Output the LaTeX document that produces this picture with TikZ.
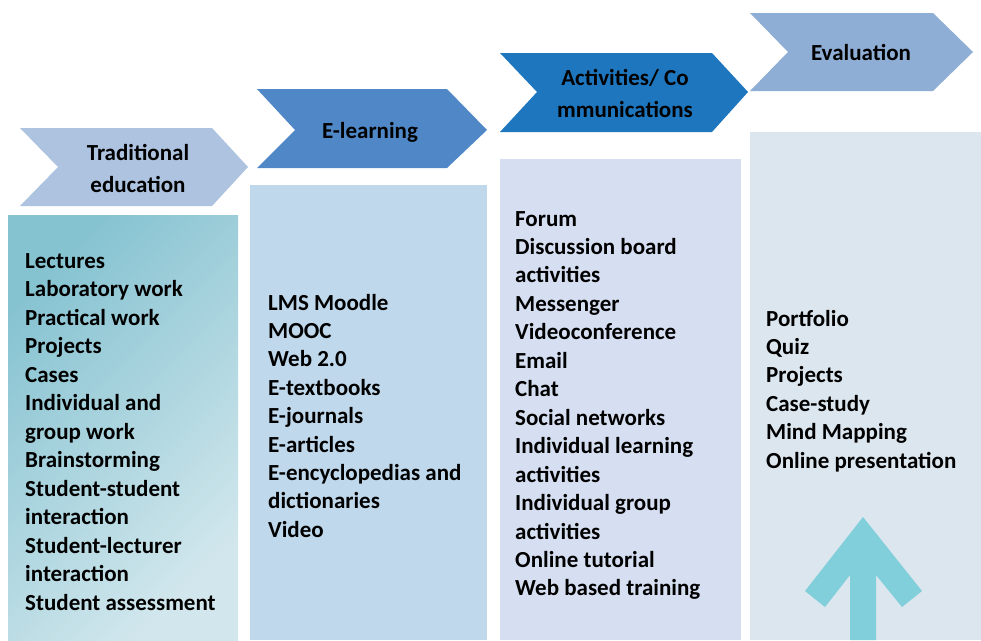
\documentclass[tikz,border=0pt]{standalone}
\usepackage{fontspec}
\setmainfont{Carlito}
\usetikzlibrary{positioning}

\definecolor{chevA}{HTML}{AEC3DF}
\definecolor{chevB}{HTML}{4F87C7}
\definecolor{chevC}{HTML}{1E77BE}
\definecolor{chevD}{HTML}{8FAED5}
\definecolor{boxAdark}{HTML}{86C3D1}
\definecolor{boxAlight}{HTML}{D2E7ED}
\definecolor{boxB}{HTML}{BFD8EB}
\definecolor{boxC}{HTML}{D6DFF1}
\definecolor{boxD}{HTML}{DCE6EE}
\definecolor{uparrow}{HTML}{80CFDA}

\tikzset{
  head/.style = {anchor = base, inner sep = 0pt, font = \fontsize{23}{28}\selectfont\bfseries},
  item/.style = {anchor = base west, inner sep = 0pt, font = \fontsize{23}{28}\selectfont\bfseries},
}

\begin{document}
\begin{tikzpicture} [x = 1pt, y = -1pt]
\useasboundingbox (0,0) rectangle (981,640);
\fill [white] (0,0) rectangle (981,640);

% columns
\shade [top color = boxAdark, bottom color = boxAlight, shading angle = 45] (8,215) rectangle (238,640);
\fill [boxB] (250,185) rectangle (487,640);
\fill [boxC] (500,159) rectangle (741,640);
\fill [boxD] (750,132) rectangle (981,640);

% chevrons
\fill [chevA] (20,128) -- (212,128) -- (248,167) -- (212,206) -- (20,206) -- (58,167) -- cycle;
\fill [chevB] (257,89) -- (447,89) -- (487,130) -- (447,168) -- (257,168) -- (295,130) -- cycle;
\fill [chevC] (500,53) -- (712,53) -- (748,92) -- (712,132) -- (500,132) -- (537,92) -- cycle;
\fill [chevD] (750,13) -- (933,13) -- (973,52) -- (933,91) -- (750,91) -- (788,52) -- cycle;

\node [head] (trad1) at (138,160) {Traditional};
\node [head] (trad2) at (138,192) {education};
\node [head] (elearn) at (370,138) {E-learning};
\node [head] (act1) at (625,85) {Activities/ Co};
\node [head] (act2) at (625,117) {mmunications};
\node [head] (eval) at (861,60) {Evaluation};

% lists
\foreach \t [count = \i] in {Lectures, Laboratory work, Practical work, Projects, Cases,
    Individual and, group work, Brainstorming, Student-student, interaction,
    Student-lecturer, interaction, Student assessment}
  \node [item] (a\i) at (25, {268 + 28.5*(\i-1)}) {\t};

\foreach \t [count = \i] in {LMS Moodle, MOOC, Web 2.0, E-textbooks, E-journals,
    E-articles, E-encyclopedias and, dictionaries, Video}
  \node [item] (b\i) at (268, {310 + 28.4*(\i-1)}) {\t};

\foreach \t [count = \i] in {Forum, Discussion board, activities, Messenger, Videoconference,
    Email, Chat, Social networks, Individual learning, activities, Individual group,
    activities, Online tutorial, Web based training}
  \node [item] (c\i) at (515, {226 + 28.46*(\i-1)}) {\t};

\foreach \t [count = \i] in {Portfolio, Quiz, Projects, Case-study, Mind Mapping, Online presentation}
  \node [item] (d\i) at (766, {326 + 28.4*(\i-1)}) {\t};

% arrow
\fill [uparrow] (863,517) -- (922,591) -- (902,607) -- (876,575) -- (876,640)
  -- (850,640) -- (850,575) -- (825,607) -- (805,591) -- cycle;
\end{tikzpicture}
\end{document}
